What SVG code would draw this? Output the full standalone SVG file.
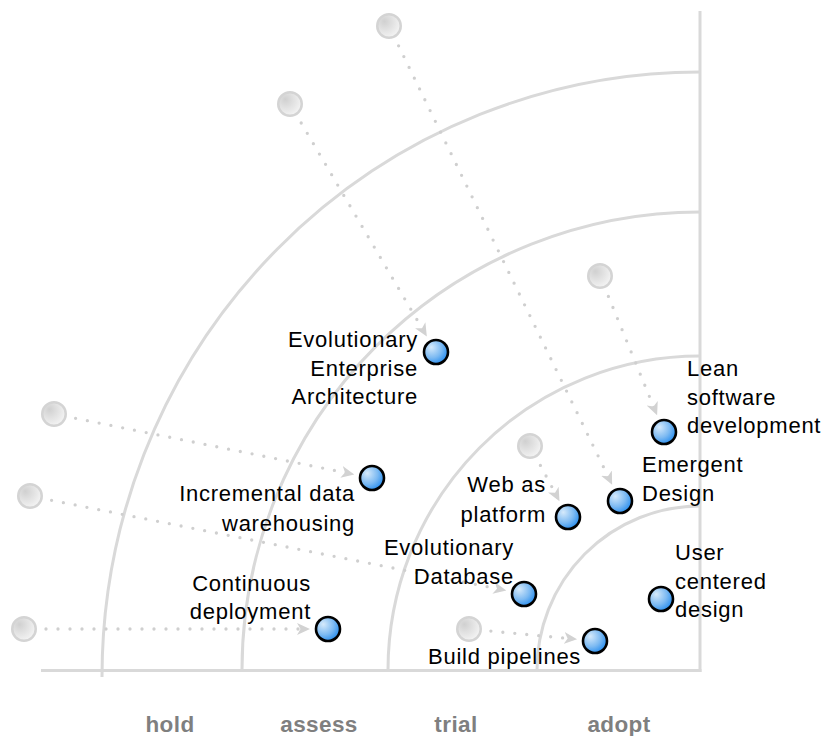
<svg xmlns="http://www.w3.org/2000/svg" width="827" height="736" viewBox="0 0 827 736">
<style>
.axis{fill:none;stroke:#d9d9d9;stroke-width:3}
.conn{fill:none;stroke:#cfcfcf;stroke-width:3.3;stroke-linecap:round;stroke-dasharray:0 12;marker-end:url(#arr)}
.src{fill:url(#gGray);stroke:#d4d4d4;stroke-width:2.5}
.tech{fill:url(#gBlue);stroke:#000;stroke-width:2.6}
.lbl{font-family:"Liberation Sans",Arial,Helvetica,sans-serif;font-size:22px;letter-spacing:0.75px;fill:#000}
.end{text-anchor:end}
.ring{font-family:"Liberation Sans",Arial,Helvetica,sans-serif;font-size:22.5px;font-weight:bold;letter-spacing:0.4px;fill:#7f7f7f;text-anchor:middle}
</style>
<defs>
<radialGradient id="gGray" cx="0.35" cy="0.35" r="0.75" fx="0.3" fy="0.3">
<stop offset="0" stop-color="#d0d0d0"/>
<stop offset="1" stop-color="#f7f7f7"/>
</radialGradient>
<radialGradient id="gBlue" cx="0.35" cy="0.35" r="0.75" fx="0.3" fy="0.3">
<stop offset="0" stop-color="#d6eafb"/>
<stop offset="0.55" stop-color="#7dbaf2"/>
<stop offset="1" stop-color="#1a86ee"/>
</radialGradient>
<marker id="arr" markerUnits="userSpaceOnUse" viewBox="0 -7 14 14" refX="9" refY="0" markerWidth="14" markerHeight="14" orient="auto">
<path d="M0,-6 L13,0 L0,6 L3.5,0 Z" fill="#d2d2d2"/>
</marker>
</defs>

<g id="radar">
<line class="axis" x1="700" y1="11" x2="700" y2="672"/>
<line class="axis" x1="41" y1="670.5" x2="701.5" y2="670.5"/>
<path class="axis" d="M102,677 A598,605 0 0 1 700,72"/>
<path class="axis" d="M242,670 A458,458 0 0 1 700,212"/>
<path class="axis" d="M388,670 A312,314 0 0 1 700,356"/>
<path class="axis" d="M537,670 A163,164 0 0 1 700,506"/>
</g>

<g id="connectors">
<line class="conn" x1="398.6" y1="45.8" x2="610.4" y2="481.2"/>
<line class="conn" x1="301.2" y1="123" x2="424.8" y2="333"/>
<line class="conn" x1="608.4" y1="296.4" x2="655.6" y2="411.6"/>
<line class="conn" x1="540.4" y1="465.4" x2="557.6" y2="497.6"/>
<line class="conn" x1="75.6" y1="418.3" x2="350.4" y2="473.7"/>
<line class="conn" x1="51.6" y1="500.3" x2="502.4" y2="589.7"/>
<line class="conn" x1="46" y1="629" x2="306" y2="629"/>
<line class="conn" x1="490.9" y1="631.1" x2="573.1" y2="638.9"/>
</g>

<g id="src-emergent"><circle class="src" cx="389" cy="26" r="11.75"/></g>
<g id="src-eea"><circle class="src" cx="290" cy="104" r="11.75"/></g>
<g id="src-lean"><circle class="src" cx="600" cy="276" r="11.75"/></g>
<g id="src-web"><circle class="src" cx="530" cy="446" r="11.75"/></g>
<g id="src-incremental"><circle class="src" cx="54" cy="414" r="11.75"/></g>
<g id="src-evodb"><circle class="src" cx="30" cy="496" r="11.75"/></g>
<g id="src-continuous"><circle class="src" cx="24" cy="629" r="11.75"/></g>
<g id="src-build"><circle class="src" cx="469" cy="629" r="11.75"/></g>

<g id="node-eea">
<circle class="tech" cx="436" cy="352" r="12"/>
<text class="lbl end" x="418" y="347">Evolutionary</text>
<text class="lbl end" x="418" y="375.5">Enterprise</text>
<text class="lbl end" x="418" y="404">Architecture</text>
</g>
<g id="node-lean">
<circle class="tech" cx="664" cy="432" r="12"/>
<text class="lbl" x="687" y="376">Lean</text>
<text class="lbl" x="687" y="404.7">software</text>
<text class="lbl" x="687" y="433.4">development</text>
</g>
<g id="node-emergent">
<circle class="tech" cx="620" cy="501" r="12"/>
<text class="lbl" x="642" y="472.3">Emergent</text>
<text class="lbl" x="642" y="501">Design</text>
</g>
<g id="node-web">
<circle class="tech" cx="568" cy="517" r="12"/>
<text class="lbl end" x="546" y="492">Web as</text>
<text class="lbl end" x="546" y="521.5">platform</text>
</g>
<g id="node-incremental">
<circle class="tech" cx="372" cy="478" r="12"/>
<text class="lbl end" x="355" y="501">Incremental data</text>
<text class="lbl end" x="355" y="530.5">warehousing</text>
</g>
<g id="node-evodb">
<circle class="tech" cx="524" cy="594" r="12"/>
<text class="lbl end" x="514" y="555">Evolutionary</text>
<text class="lbl end" x="514" y="583.5">Database</text>
</g>
<g id="node-user">
<circle class="tech" cx="661" cy="599" r="12"/>
<text class="lbl" x="675" y="560">User</text>
<text class="lbl" x="675" y="588.5">centered</text>
<text class="lbl" x="675" y="617">design</text>
</g>
<g id="node-build">
<circle class="tech" cx="595" cy="641" r="12"/>
<text class="lbl" x="428" y="663.5">Build pipelines</text>
</g>
<g id="node-continuous">
<circle class="tech" cx="328" cy="629" r="12"/>
<text class="lbl end" x="311" y="591">Continuous</text>
<text class="lbl end" x="311" y="618.5">deployment</text>
</g>

<g id="rings">
<text class="ring" x="170" y="732">hold</text>
<text class="ring" x="319" y="732">assess</text>
<text class="ring" x="456" y="732">trial</text>
<text class="ring" x="619" y="732">adopt</text>
</g>
</svg>
